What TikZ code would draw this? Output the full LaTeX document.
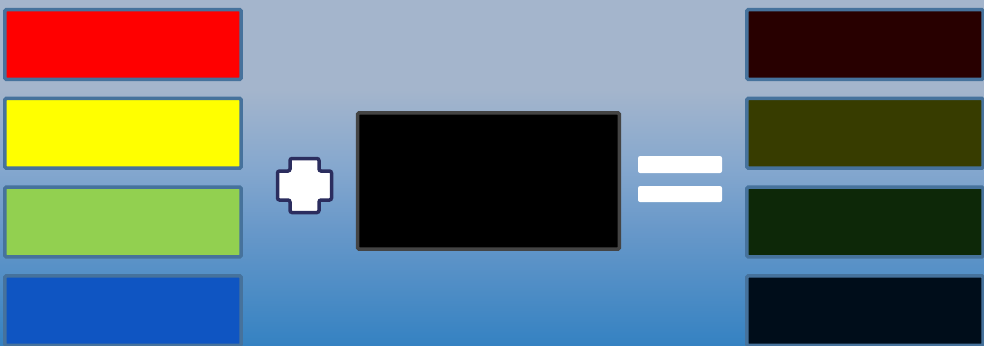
\documentclass[tikz,border=0pt]{standalone}
\usepackage{tikz}
\usepackage{xcolor}
\usetikzlibrary{positioning}

\definecolor{bgtop}{HTML}{A4B5CC}
\definecolor{bglight}{HTML}{84A7CE}
\definecolor{bgmid}{HTML}{6898C9}
\definecolor{bgbot}{HTML}{3582C2}
\definecolor{boxedge}{HTML}{46729C}
\definecolor{plusedge}{HTML}{2B2D5E}
\definecolor{tintedge}{HTML}{444444}

\definecolor{srcred}{HTML}{FF0000}
\definecolor{srcyellow}{HTML}{FFFF00}
\definecolor{srcgreen}{HTML}{92D050}
\definecolor{srcblue}{HTML}{0F55C2}
\definecolor{outred}{HTML}{280000}
\definecolor{outyellow}{HTML}{373C00}
\definecolor{outgreen}{HTML}{0D2808}
\definecolor{outblue}{HTML}{000D1A}

% the middle 50bp of the shading is stretched over the path
\pgfdeclareverticalshading{bgfade}{100bp}{color(0bp)=(bgbot); color(25bp)=(bgbot); color(41.7bp)=(bgmid); color(50.4bp)=(bglight); color(62bp)=(bgtop); color(100bp)=(bgtop)}

\begin{document}
\begin{tikzpicture}[x=0.025cm, y=-0.025cm,
    swatch/.style={draw=boxedge, line width=0.0875cm, rounded corners=1pt,
        minimum width=5.91cm, minimum height=1.74cm, inner sep=0pt},
    tint/.style={draw=tintedge, fill=black, line width=0.0875cm, rounded corners=1pt,
        minimum width=6.54cm, minimum height=3.41cm, inner sep=0pt},
    plusmark/.style={draw=plusedge, fill=white, line width=0.0875cm, rounded corners=1.5pt},
    eqbar/.style={fill=white, rounded corners=1.5pt, minimum width=2.1cm, inner sep=0pt}]
    % Background
    \clip (0,0) rectangle (984,345);
    \shade[shading=bgfade] (0,0) rectangle (984,345);

    % Source colours
    \node[swatch, fill=srcred] (red) at (123,44.5) {};
    \node[swatch, fill=srcyellow, below=0.39cm of red] (yellow) {};
    \node[swatch, fill=srcgreen, below=0.39cm of yellow] (green) {};
    \node[swatch, fill=srcblue, below=0.39cm of green] (blue) {};

    % Plus sign
    \draw[plusmark] (304.5,185.5) ++(-14.5,-27) -- ++(29,0) -- ++(0,12.5) -- ++(12.5,0)
        -- ++(0,29) -- ++(-12.5,0) -- ++(0,12.5) -- ++(-29,0) -- ++(0,-12.5)
        -- ++(-12.5,0) -- ++(0,-29) -- ++(12.5,0) -- cycle;

    % Black overlay
    \node[tint] (overlay) at (488.5,181) {};

    % Equals sign
    \node[eqbar, minimum height=0.425cm] (eqtop) at (680,164.5) {};
    \node[eqbar, minimum height=0.4cm] (eqbot) at (680,194) {};

    % Result colours
    \node[swatch, fill=outred] (darkred) at (865,44.5) {};
    \node[swatch, fill=outyellow, below=0.39cm of darkred] (darkyellow) {};
    \node[swatch, fill=outgreen, below=0.39cm of darkyellow] (darkgreen) {};
    \node[swatch, fill=outblue, below=0.39cm of darkgreen] (darkblue) {};
\end{tikzpicture}
\end{document}
